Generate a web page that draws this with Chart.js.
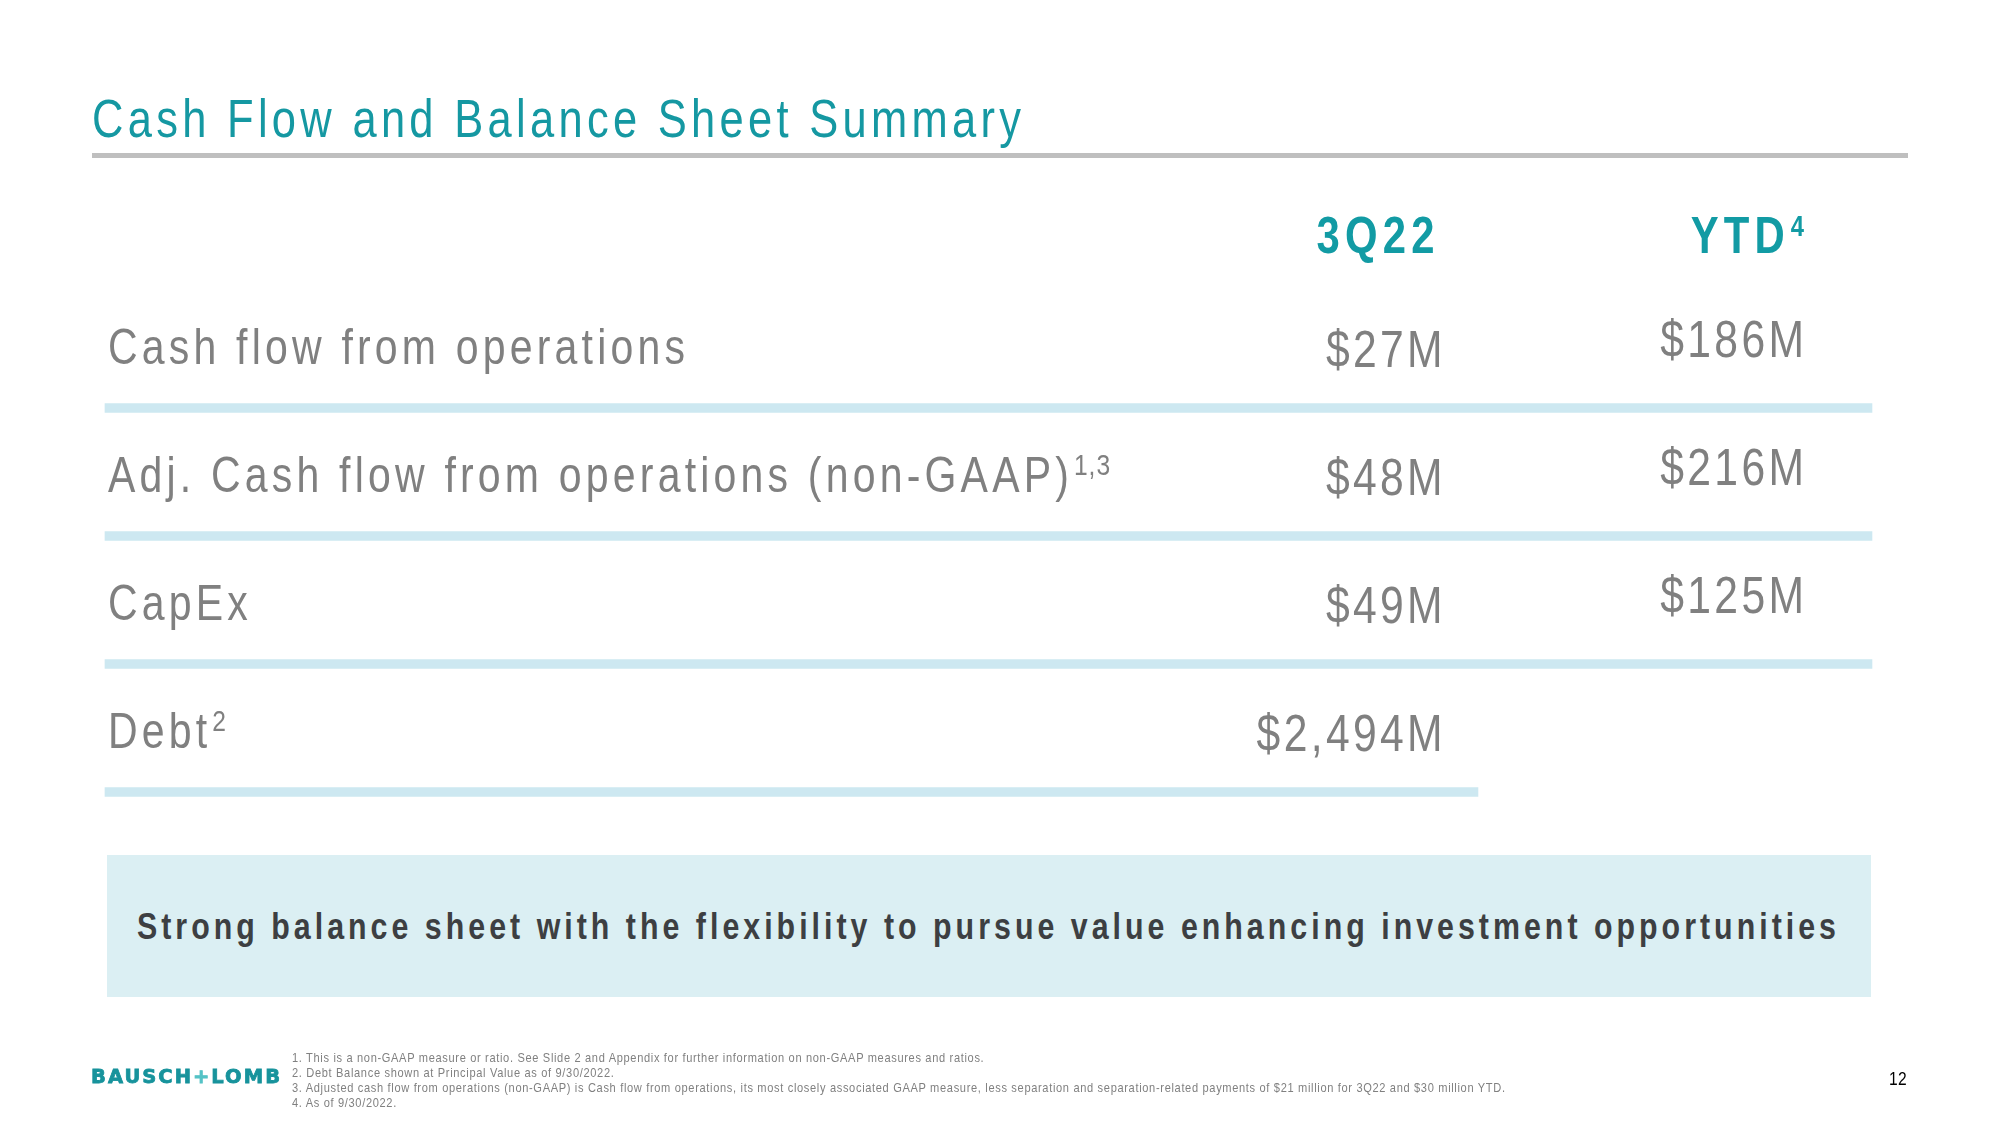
<!DOCTYPE html>
<html>
<head>
<meta charset="utf-8">
<script src="https://cdn.jsdelivr.net/npm/chart.js@4/dist/chart.umd.min.js"></script>
<style>
  html, body { margin: 0; padding: 0; background: #ffffff; }
  #page { position: relative; width: 2000px; height: 1125px; overflow: hidden; background: #ffffff; }
  #c { position: absolute; left: 0; top: 0; }
  .t { position: absolute; white-space: nowrap; line-height: 1; margin: 0; }
  #title { left: 92px; font-size: 53px; color: #1598a2; }
  #rule { position: absolute; left: 92px; top: 153px; width: 1816px; height: 5px; background: #bfbfbf; }
  #banner { position: absolute; left: 107px; top: 855px; width: 1764px; height: 142px; background: #dbeff3; }
  #bannerText { font-size: 37px; font-weight: bold; color: #3d3f42; }
  .fn { left: 292px; font-size: 13.5px; color: #808080; }
  #logo { left: 91px; font-family: 'DejaVu Sans', sans-serif; font-weight: bold; font-size: 19.5px; color: #17939c; -webkit-text-stroke: 0.8px #17939c; }
  #logo .plus { color: #55c3c6; -webkit-text-stroke: 0.8px #55c3c6; }
  #pageNum { font-size: 19px; color: #000000; }
</style>
</head>
<body>
<div id="page">
  <canvas id="c" width="2000" height="1125"></canvas>
  <div id="title" class="t">Cash Flow and Balance Sheet Summary</div>
  <div id="rule"></div>
  <div id="banner"></div>
  <div id="bannerText" class="t">Strong balance sheet with the flexibility to pursue value enhancing investment opportunities</div>
  <div id="logo" class="t">BAUSCH<span class="plus">+</span>LOMB</div>
  <div id="fn1" class="t fn">1. This is a non-GAAP measure or ratio. See Slide 2 and Appendix for further information on non-GAAP measures and ratios.</div>
  <div id="fn2" class="t fn">2. Debt Balance shown at Principal Value as of 9/30/2022.</div>
  <div id="fn3" class="t fn">3. Adjusted cash flow from operations (non-GAAP) is Cash flow from operations, its most closely associated GAAP measure, less separation and separation-related payments of $21 million for 3Q22 and $30 million YTD.</div>
  <div id="fn4" class="t fn">4. As of 9/30/2022.</div>
  <div id="pageNum" class="t">12</div>
</div>
<script>
// ---------------- data ----------------
const rowLabels   = ['Cash flow from operations', 'Adj. Cash flow from operations (non-GAAP)', 'CapEx', 'Debt'];
const rowNotes    = ['', '1,3', '', '2'];
const columnNames = ['3Q22', 'YTD'];
const columnNotes = ['', '4'];
const q3Values    = [27, 48, 49, 2494];      // $M, 3Q22
const ytdValues   = [186, 216, 125, null];   // $M, YTD (no YTD figure for Debt)

// ---------------- layout (pixels / percent of table width) ----------------
const TABLE = { left: 105, right: 1872, top: 280, bottom: 792 };
const COL_RIGHT = [75.7, 96.15];   // right edge of text in each value column (x-scale units)
const HEAD_DX = [-8, 0];           // header nudge relative to column right edge (px)
const COL_END   = [77.7, 100];     // where a row's rule stops when that column is its last filled one
const COLORS = { text: '#808080', head: '#129ba4', rule: '#cde8f1' };

// ---------------- font detection ----------------
function hasFont(fam) {
  const c = document.createElement('canvas').getContext('2d');
  const s = 'abcdefghijklmnopqrstuvwxyz ABCDEFG 0123456789';
  c.font = '72px monospace'; const a = c.measureText(s).width;
  c.font = '72px ' + fam + ', monospace'; const b = c.measureText(s).width;
  return a !== b;
}
const NARROW_OK = hasFont("'Liberation Sans Narrow'");
const FAM = NARROW_OK ? "'Liberation Sans Narrow'" : "'Liberation Sans'";
const K = NARROW_OK ? 1 : 0.82;

// ---------------- HTML text placement ----------------
function place(el, baseline, fs) { el.style.top = (baseline - 0.846 * fs) + 'px'; }
function fitSpacing(el, target, scale) {
  el.style.letterSpacing = '0px';
  const w = el.getBoundingClientRect().width;
  const n = el.textContent.length;
  const ls = (target - w) / (n - 1) / scale;
  el.style.letterSpacing = ls + 'px';
  return ls;
}
function setupHtml() {
  const narrowEls = ['title', 'bannerText', 'fn1', 'fn2', 'fn3', 'fn4', 'pageNum'];
  narrowEls.forEach(id => {
    const el = document.getElementById(id);
    el.style.fontFamily = FAM + ", 'Liberation Sans', Arial, sans-serif";
    if (K !== 1) { el.style.transform = 'scaleX(' + K + ')'; el.style.transformOrigin = 'left top'; }
  });
  const title = document.getElementById('title');
  place(title, 137, 53); fitSpacing(title, 929, K);

  const bt = document.getElementById('bannerText');
  place(bt, 939, 37); fitSpacing(bt, 1699, K);
  const bw = bt.getBoundingClientRect().width;
  bt.style.left = (989 - bw / 2) + 'px';

  const f3 = document.getElementById('fn3');
  const ls = fitSpacing(f3, 1213, K);
  const bases = [1062, 1077, 1092, 1107];
  ['fn1', 'fn2', 'fn3', 'fn4'].forEach((id, i) => {
    const el = document.getElementById(id);
    el.style.letterSpacing = ls + 'px';
    place(el, bases[i], 13.5);
  });

  const logo = document.getElementById('logo');
  place(logo, 1083, 19.5); fitSpacing(logo, 189, 1);

  const pn = document.getElementById('pageNum');
  place(pn, 1085, 19);
  pn.style.letterSpacing = '0.5px';
  const pw = pn.getBoundingClientRect().width;
  pn.style.left = (1907 - pw) + 'px';
}

// ---------------- canvas text helpers ----------------
function charWidths(ctx, text) { return [...text].map(ch => ctx.measureText(ch).width * K); }
function spacingFor(ctx, font, text, target) {
  ctx.font = font;
  const ws = charWidths(ctx, text);
  return (target - ws.reduce((a, b) => a + b, 0)) / (ws.length - 1);
}
function drawSpaced(ctx, text, x, y, spacing, align) {
  const chars = [...text];
  const ws = charWidths(ctx, text);
  const total = ws.reduce((a, b) => a + b, 0) + spacing * (chars.length - 1);
  let cx = align === 'right' ? x - total : (align === 'center' ? x - total / 2 : x);
  chars.forEach((ch, i) => {
    ctx.save(); ctx.translate(cx, y); ctx.scale(K, 1); ctx.fillText(ch, 0, 0); ctx.restore();
    cx += ws[i] + spacing;
  });
  return total;
}
function textWidth(ctx, text, spacing) {
  const ws = charWidths(ctx, text);
  return ws.reduce((a, b) => a + b, 0) + spacing * (ws.length - 1);
}
const fmt = v => '$' + v.toLocaleString('en-US') + 'M';

const tablePlugin = {
  id: 'tableText',
  afterDatasetsDraw(chart) {
    const { ctx, scales: { x, y }, chartArea } = chart;
    const F = {
      label: '50px ' + FAM,
      value: '52px ' + FAM,
      head: 'bold 51px ' + FAM,
      headSup: 'bold 29px ' + FAM,
      sup: '30px ' + FAM
    };
    const spLabel = spacingFor(ctx, F.label, rowLabels[0], 577);
    const spValue = spacingFor(ctx, F.value, '$2,494M', 186);
    const spHead  = spacingFor(ctx, F.head, columnNames[0], 118);
    ctx.save();
    ctx.textBaseline = 'alphabetic';
    ctx.textAlign = 'left';

    // column headers
    const headBase = chartArea.top - 27;
    ctx.fillStyle = COLORS.head;
    columnNames.forEach((name, j) => {
      const right = x.getPixelForValue(COL_RIGHT[j]) + HEAD_DX[j];
      let supW = 0;
      if (columnNotes[j]) { ctx.font = F.headSup; supW = textWidth(ctx, columnNotes[j], 1) + 6; }
      ctx.font = F.head;
      drawSpaced(ctx, name, right - supW, headBase, spHead, 'right');
      if (columnNotes[j]) {
        ctx.font = F.headSup;
        drawSpaced(ctx, columnNotes[j], right - supW + 6, headBase - 17, 1, 'left');
      }
    });

    // rows
    ctx.fillStyle = COLORS.text;
    rowLabels.forEach((lab, i) => {
      const cy = y.getPixelForValue(i);
      const lx = x.getPixelForValue(0) + 3;
      ctx.font = F.label;
      const w = drawSpaced(ctx, lab, lx, cy + 20, spLabel, 'left');
      if (rowNotes[i]) {
        ctx.font = F.sup;
        drawSpaced(ctx, rowNotes[i], lx + w + 5, cy + 3, 1, 'left');
      }
      ctx.font = F.value;
      if (q3Values[i] != null) drawSpaced(ctx, fmt(q3Values[i]), x.getPixelForValue(COL_RIGHT[0]), cy + 23, spValue, 'right');
      if (ytdValues[i] != null) drawSpaced(ctx, fmt(ytdValues[i]), x.getPixelForValue(COL_RIGHT[1]), cy + 13, spValue, 'right');
    });
    ctx.restore();
  }
};

// ---------------- separators: one rule under each row, ending after its last filled column ----------------
const sepLabels = ['top'].concat(rowLabels);
const sepData = rowLabels.map((lab, i) => {
  const last = ytdValues[i] != null ? 1 : 0;
  return { y: lab, x: [0, COL_END[last]] };
});

function build() {
  setupHtml();
  const canvas = document.getElementById('c');
  new Chart(canvas, {
    type: 'bar',
    data: {
      labels: sepLabels,
      datasets: [{
        label: 'row rules',
        yAxisID: 'ySep',
        xAxisID: 'x',
        data: sepData,
        backgroundColor: COLORS.rule,
        borderWidth: 0,
        barThickness: 9,
        clip: false
      }]
    },
    options: {
      indexAxis: 'y',
      responsive: false,
      animation: false,
      devicePixelRatio: 1,
      layout: { padding: { left: TABLE.left, right: 2000 - TABLE.right, top: TABLE.top, bottom: 1125 - TABLE.bottom } },
      scales: {
        x: { type: 'linear', min: 0, max: 100, display: false },
        y: { type: 'category', labels: rowLabels, offset: true, display: false },
        ySep: { type: 'category', labels: sepLabels, offset: false, display: false, position: 'left' }
      },
      plugins: { legend: { display: false }, tooltip: { enabled: false }, title: { display: false } }
    },
    plugins: [tablePlugin]
  });
}
if (document.fonts && document.fonts.ready) {
  Promise.all([
    document.fonts.load("47px 'Liberation Sans Narrow'"),
    document.fonts.load("bold 47px 'Liberation Sans Narrow'"),
    document.fonts.load("47px 'Liberation Sans'"),
    document.fonts.load("bold 18px 'DejaVu Sans'")
  ]).catch(() => {}).then(build);
} else { build(); }
</script>
</body>
</html>
